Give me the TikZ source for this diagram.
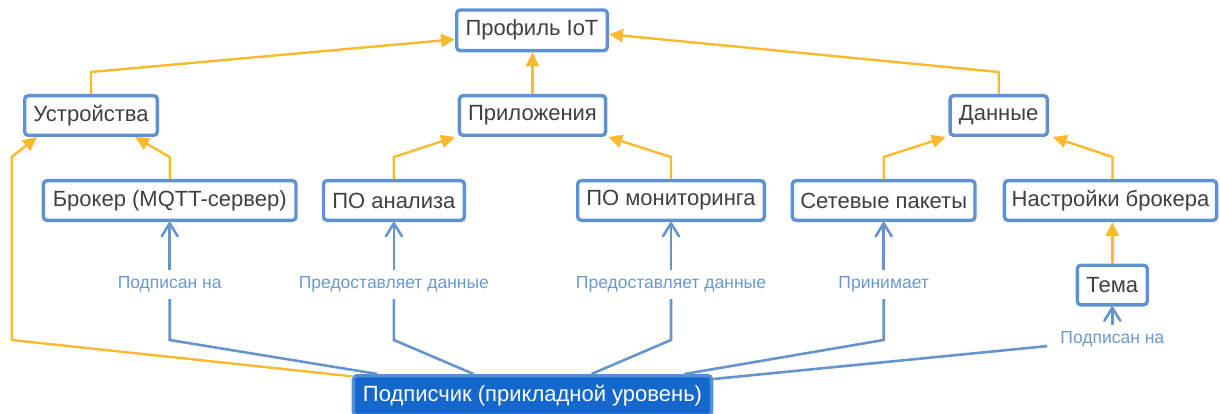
\documentclass[tikz,border=0pt]{standalone}
\usepackage{fontspec}
\setmainfont{Liberation Sans}
\usetikzlibrary{arrows.meta,calc}
\definecolor{boxblue}{HTML}{5F92D0}
\definecolor{linkblue}{HTML}{6695CE}
\definecolor{lblblue}{HTML}{6A99D0}
\definecolor{ylwline}{HTML}{FBB92E}
\definecolor{txtgray}{HTML}{404040}
\definecolor{subfill}{HTML}{1467CC}
\definecolor{subedge}{HTML}{5290DA}
\begin{document}
\begin{tikzpicture}[x=1pt,y=-1pt,
  box/.style={draw=boxblue, line width=3.4pt, rounded corners=3.5pt, fill=white,
    text=txtgray, font=\fontsize{22}{26}\selectfont, inner sep=0pt,
    minimum height=39.6pt},
  subbox/.style={box, draw=subedge, fill=subfill, text=white},
  lbl/.style={text=lblblue, font=\fontsize{17.5}{20}\selectfont,
    inner xsep=13pt, inner ysep=0pt, minimum height=29pt},
  ylw/.style={draw=ylwline, line width=2.4pt,
    -{Triangle[length=14pt,width=13pt]}},
  blu/.style={draw=linkblue, line width=2.6pt},
  bluarr/.style={blu, -{Straight Barb[length=13pt,width=16pt,line join=round,line cap=round]}}
]
\useasboundingbox (0,0) rectangle (1220,414);

% boxes
\node[box, minimum width=150.6pt, minimum height=40.6pt] (prof) at (532,30.3) {Профиль IoT};
\node[box, minimum width=132.6pt] (dev) at (91,115.5) {Устройства};
\node[box, minimum width=146.2pt] (app) at (532.5,115.5) {Приложения};
\node[box, minimum width=97.3pt] (dat) at (998.7,115.5) {Данные};
\node[box, minimum width=252.6pt] (brk) at (169.7,200.5) {Брокер (MQTT-сервер)};
\node[box, minimum width=140.9pt] (ana) at (393.9,200.5) {ПО анализа};
\node[box, minimum width=186.6pt] (mon) at (671,200.5) {ПО мониторинга};
\node[box, minimum width=182.6pt] (net) at (883.7,200.5) {Сетевые пакеты};
\node[box, minimum width=212.2pt] (cfg) at (1110.5,200.5) {Настройки брокера};
\node[box, minimum width=69.9pt] (tema) at (1112.3,285) {Тема};
\node[subbox, minimum width=358.2pt] (sub) at (532.5,395.5) {Подписчик (прикладной уровень)};

% rows used for labels and bends
\coordinate (labrow) at (0,284.5);
\coordinate (bendrow) at (0,340);
\coordinate (temalab) at (0,339.7);
\coordinate (lb) at (11.7,340);
\coordinate (lt) at (11.7,157);

% edge labels
\node[lbl] (l1) at (brk.south |- labrow) {Подписан на};
\node[lbl] (l2) at (ana.south |- labrow) {Предоставляет данные};
\node[lbl] (l3) at (mon.south |- labrow) {Предоставляет данные};
\node[lbl] (l4) at (net.south |- labrow) {Принимает};
\node[lbl] (l5) at (tema.south |- temalab) {Подписан на};

% hierarchy (yellow)
\draw[ylw] (dev.north) -- ++(0,-22) -- ([yshift=-9pt]prof.west);
\draw[ylw] (app.north) -- (app.north |- prof.south);
\draw[ylw] (dat.north) -- ++(0,-22) -- ([yshift=-4pt]prof.east);
\draw[ylw] (brk.north) -- ++(0,-22) -- ([xshift=44pt]dev.south);
\draw[ylw] ([yshift=-2.3pt]sub.north west) -- (lb) -- (lt) -- ([xshift=-54pt]dev.south);
\draw[ylw] (ana.north) -- ++(0,-22) -- ([xshift=-77.5pt]app.south);
\draw[ylw] (mon.north) -- ++(0,-22) -- ([xshift=75.8pt]app.south);
\draw[ylw] (net.north) -- ++(0,-22) -- ([xshift=-53pt]dat.south);
\draw[ylw] ([xshift=2pt]cfg.north) -- ++(0,-22) -- ([xshift=54pt]dat.south);
\draw[ylw] (tema.north) -- (tema.north |- cfg.south);

% subscriber relations (blue)
\draw[blu] ([xshift=-155pt]sub.north) -- (brk.south |- bendrow) -- (l1.south);
\draw[bluarr] (l1.north) -- (brk.south);
\draw[blu] ([xshift=-59pt]sub.north) -- (ana.south |- bendrow) -- (l2.south);
\draw[bluarr] (l2.north) -- (ana.south);
\draw[blu] ([xshift=59pt]sub.north) -- (mon.south |- bendrow) -- (l3.south);
\draw[bluarr] (l3.north) -- (mon.south);
\draw[blu] ([xshift=152pt]sub.north) -- (net.south |- bendrow) -- (l4.south);
\draw[bluarr] (l4.north) -- (net.south);
\draw[blu] ([yshift=-5pt]sub.north east) -- (l5);
\draw[bluarr] (l5.north) -- (l5.north |- tema.south);
\end{tikzpicture}
\end{document}
